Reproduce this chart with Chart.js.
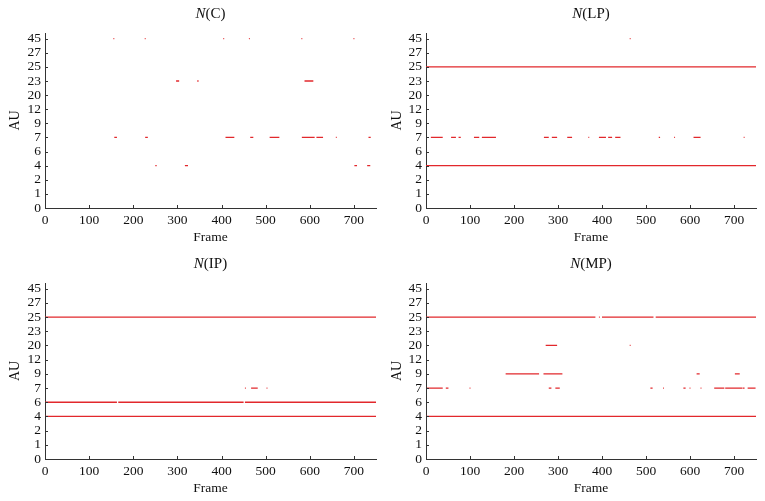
<!DOCTYPE html>
<html>
<head>
<meta charset="utf-8">
<script src="https://cdn.jsdelivr.net/npm/chart.js@4/dist/chart.umd.min.js"></script>
<style>
  body { margin: 0; background: #fff; }
  .panel { position: absolute; }
</style>
</head>
<body>
<div class="panel" style="left:0;top:0"><canvas id="pC" width="382" height="250"></canvas></div>
<div class="panel" style="left:382px;top:0"><canvas id="pLP" width="383" height="250"></canvas></div>
<div class="panel" style="left:0;top:250px"><canvas id="pIP" width="382" height="251"></canvas></div>
<div class="panel" style="left:382px;top:250px"><canvas id="pMP" width="383" height="251"></canvas></div>
<script>
// AU categories on the y axis (evenly spaced)
const auLabels = ['0', '1', '2', '4', '6', '7', '9', '12', '20', '23', '25', '27', '45'];

// runs of frames where an AU is active: [AU, fromFrame, toFrame]
const runsC = [
  [45, 155, 157], [45, 226, 228], [45, 404, 406], [45, 462, 464], [45, 581, 583], [45, 699, 701],
  [23, 297, 304], [23, 345, 348], [23, 588, 608],
  [7, 157, 163], [7, 227, 233], [7, 409, 429], [7, 465, 472], [7, 509, 531], [7, 582, 611],
  [7, 615, 630], [7, 659, 661], [7, 733, 738],
  [4, 250, 253], [4, 317, 324], [4, 701, 707], [4, 730, 737]
];
const runsLP = [
  [45, 266, 268], [45, 463, 465],
  [25, 0, 750],
  [7, 11, 38], [7, 57, 68], [7, 74, 79], [7, 109, 121], [7, 127, 159], [7, 268, 279], [7, 286, 298],
  [7, 321, 332], [7, 369, 371], [7, 393, 409], [7, 414, 423], [7, 430, 442], [7, 529, 532],
  [7, 564, 566], [7, 608, 624], [7, 722, 724],
  [4, 0, 750]
];
const runsIP = [
  [25, 0, 750],
  [7, 453, 455], [7, 467, 482], [7, 502, 504],
  [6, 0, 163], [6, 166, 450], [6, 453, 750],
  [4, 0, 750]
];
const runsMP = [
  [25, 0, 385], [25, 393, 395], [25, 400, 517], [25, 522, 750],
  [20, 272, 298], [20, 463, 465],
  [9, 181, 257], [9, 267, 310], [9, 615, 622], [9, 702, 713],
  [7, 2, 38], [7, 45, 51], [7, 99, 101], [7, 279, 285], [7, 294, 304], [7, 510, 515], [7, 539, 541],
  [7, 585, 590], [7, 599, 601], [7, 624, 626], [7, 655, 678], [7, 680, 719], [7, 720, 724], [7, 731, 749],
  [4, 0, 750]
];

const FONT = "'Liberation Serif', 'DejaVu Serif', serif";
const RED = 'rgb(226, 40, 44)';
const AXIS = '#333';
const TEXT = '#111';

// small ticks pointing into the plot, plus the N(..) title with italic N
const innerTicks = {
  id: 'innerTicks',
  afterDraw(chart, args, opts) {
    const ctx = chart.ctx, a = chart.chartArea;
    ctx.save();
    ctx.strokeStyle = AXIS;
    ctx.lineWidth = 1;
    ctx.beginPath();
    chart.scales.x.ticks.forEach((t, i) => {
      const px = Math.round(chart.scales.x.getPixelForTick(i)) + 0.5;
      ctx.moveTo(px, a.bottom); ctx.lineTo(px, a.bottom - 3);
    });
    chart.scales.y.ticks.forEach((t, i) => {
      const py = Math.round(chart.scales.y.getPixelForTick(i)) + 0.5;
      ctx.moveTo(a.left, py); ctx.lineTo(a.left + 3, py);
    });
    ctx.stroke();

    const cx = (a.left + a.right) / 2;
    ctx.fillStyle = TEXT;
    ctx.textBaseline = 'middle';
    ctx.font = 'italic 15px ' + FONT;
    const wN = ctx.measureText('N').width;
    ctx.font = '15px ' + FONT;
    const wRest = ctx.measureText(opts.suffix).width;
    const x0 = cx - (wN + wRest) / 2;
    ctx.textAlign = 'left';
    ctx.font = 'italic 15px ' + FONT;
    ctx.fillText('N', x0, 14);
    ctx.font = '15px ' + FONT;
    ctx.fillText(opts.suffix, x0 + wN, 14);
    ctx.restore();
  }
};

function runsToPoints(runs) {
  const pts = [];
  runs.forEach(r => {
    const yi = auLabels.indexOf(String(r[0]));
    pts.push({x: r[1], y: yi}, {x: r[2], y: yi}, {x: r[2], y: null});
  });
  return pts;
}

function makePanel(id, suffix, runs, axisWidth, padRight) {
  new Chart(document.getElementById(id), {
    type: 'line',
    data: {
      datasets: [{
        data: runsToPoints(runs),
        borderColor: RED,
        borderWidth: 1.3,
        pointRadius: 0,
        tension: 0,
        spanGaps: false,
        borderCapStyle: 'butt'
      }]
    },
    options: {
      responsive: false,
      animation: false,
      events: [],
      layout: { padding: { left: 0, top: 33, right: padRight, bottom: 0 } },
      plugins: {
        legend: { display: false },
        tooltip: { enabled: false },
        innerTicks: { suffix: suffix }
      },
      scales: {
        x: {
          type: 'linear',
          min: 0, max: 750,
          afterFit: s => { s.height = 42; },
          grid: { display: false, drawTicks: false },
          border: { display: true, color: AXIS, width: 1 },
          ticks: {
            stepSize: 100, includeBounds: false, padding: 4,
            maxRotation: 0, autoSkip: false,
            color: TEXT, font: { family: FONT, size: 13.5 }
          },
          title: {
            display: true, text: 'Frame', color: TEXT,
            font: { family: FONT, size: 13.5 }, padding: { top: 0, bottom: 4 }
          }
        },
        y: {
          type: 'linear',
          min: 0, max: 12.4,
          afterFit: s => { s.width = axisWidth; },
          grid: { display: false, drawTicks: false },
          border: { display: true, color: AXIS, width: 1 },
          ticks: {
            stepSize: 1, includeBounds: false, padding: 4, autoSkip: false,
            color: TEXT, font: { family: FONT, size: 13.5 },
            callback: v => auLabels[v]
          },
          title: {
            display: true, text: 'AU', color: TEXT,
            font: { family: FONT, size: 14 }, padding: { top: 7, bottom: 0 }
          }
        }
      }
    },
    plugins: [innerTicks]
  });
}

makePanel('pC', '(C)', runsC, 45, 6);
makePanel('pLP', '(LP)', runsLP, 44, 9);
makePanel('pIP', '(IP)', runsIP, 45, 6);
makePanel('pMP', '(MP)', runsMP, 44, 9);
</script>
</body>
</html>
